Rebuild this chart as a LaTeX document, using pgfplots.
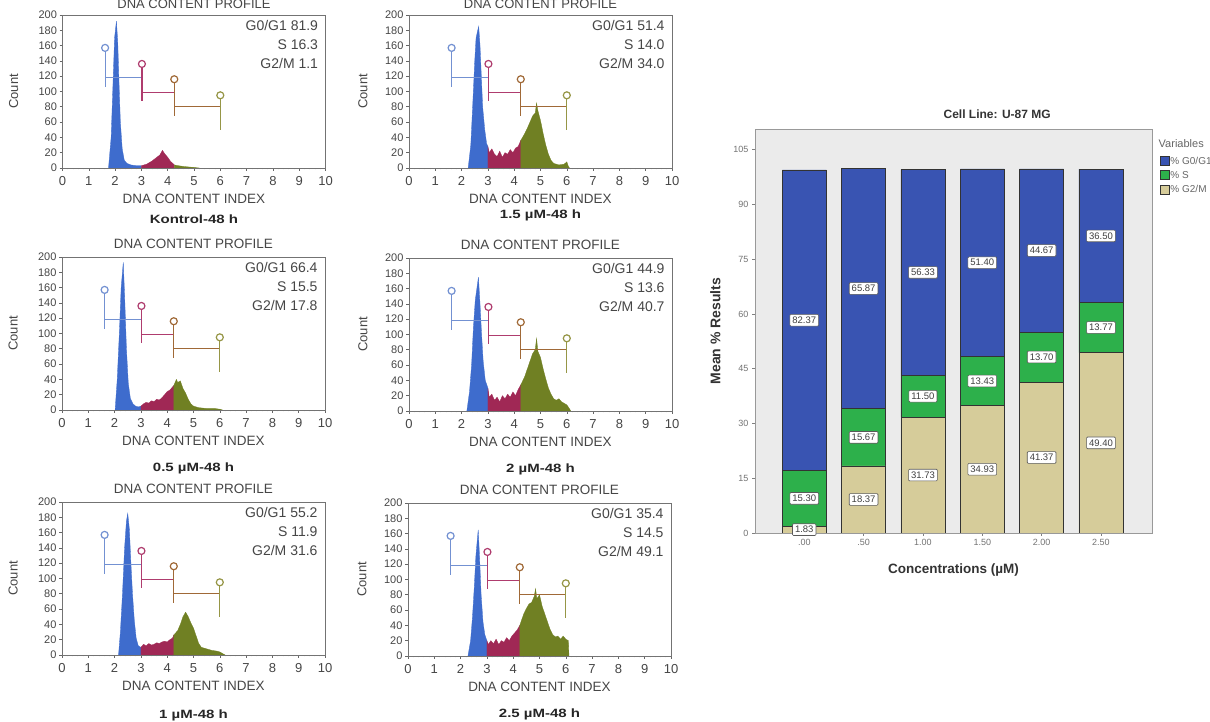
\documentclass[border=0pt]{standalone}
\usepackage{pgfplots}
\pgfplotsset{compat=1.18}
\usepackage{fontspec}
\setmainfont{Liberation Sans}
\definecolor{hblue}{RGB}{62,108,205}
\definecolor{hmaroon}{RGB}{160,40,85}
\definecolor{holive}{RGB}{112,128,35}
\definecolor{gblue}{RGB}{115,145,210}
\definecolor{gmaroon}{RGB}{175,60,110}
\definecolor{gbrown}{RGB}{160,105,55}
\definecolor{golive}{RGB}{150,150,70}
\definecolor{bblue}{RGB}{57,84,178}
\definecolor{bgreen}{RGB}{45,176,75}
\definecolor{btan}{RGB}{214,204,154}
\definecolor{txt}{RGB}{70,70,70}
\pgfplotsset{
  histo/.style={
    anchor=south west, scale only axis, width=263pt, height=153pt,
    xmin=0, xmax=10, ymin=0, ymax=200,
    xtick={0,1,...,10}, ytick={0,20,...,200},
    minor x tick num=4, tick pos=left,
    clip mode=individual,
    tick align=outside, major tick length=3pt, minor tick length=1.5pt,
    axis line style={black!55, line width=0.8pt},
    tick style={black!60, line width=0.6pt},
    /pgf/number format/assume math mode=true,
    xticklabel style={font=\fontsize{13}{13}\selectfont, text=txt, yshift=-2pt},
    yticklabel style={font=\fontsize{11}{11}\selectfont, text=txt, xshift=1pt},
    title={DNA CONTENT PROFILE},
    title style={at={(0.5,1)}, anchor=base, yshift=2.5pt, font=\fontsize{13.5}{14}\selectfont, text=txt},
    xlabel={DNA CONTENT INDEX},
    xlabel style={at={(axis description cs:0.5,0)}, anchor=center, yshift=-31pt, font=\fontsize{13.5}{14}\selectfont, text=txt},
    ylabel={Count},
    ylabel style={anchor=center, font=\fontsize{13}{14}\selectfont, text=txt},
  },
  toprow/.style={title style={yshift=-2pt, font=\fontsize{13}{13}\selectfont}},
  hb/.style={fill=hblue, draw=hblue, line width=0.3pt},
  hm/.style={fill=hmaroon, draw=hmaroon, line width=0.3pt},
  ho/.style={fill=holive, draw=holive, line width=0.3pt},
  gl/.style={line width=1.2pt, mark=none},
  gc/.style={only marks, mark=o, mark size=3.5pt, mark options={line width=1.2pt}},
}
\newcommand{\gates}{%
  \addplot[gblue, gl] coordinates {(1.62,152)(1.62,106)};
  \addplot[gblue, gl] coordinates {(1.62,118)(3.02,118)};
  \addplot[gblue, gc] coordinates {(1.62,157)};
  \addplot[gmaroon, gl] coordinates {(3.02,131)(3.02,88)};
  \addplot[gmaroon, gl] coordinates {(3.02,99)(4.25,99)};
  \addplot[gmaroon, gc] coordinates {(3.02,136)};
  \addplot[gbrown, gl] coordinates {(4.25,111)(4.25,68)};
  \addplot[gbrown, gl] coordinates {(4.25,80)(6.0,80)};
  \addplot[gbrown, gc] coordinates {(4.25,116)};
  \addplot[golive, gl] coordinates {(6.0,90)(6.0,50)};
  \addplot[golive, gc] coordinates {(6.0,95)};
}
\newcommand{\stats}[3]{%
  \node[anchor=east, text=txt, font=\fontsize{14}{14}\selectfont, yshift=-11pt] at (rel axis cs:0.985,1) {G0/G1 #1};
  \node[anchor=east, text=txt, font=\fontsize{14}{14}\selectfont, yshift=-30pt] at (rel axis cs:0.985,1) {S #2};
  \node[anchor=east, text=txt, font=\fontsize{14}{14}\selectfont, yshift=-49pt] at (rel axis cs:0.985,1) {G2/M #3};
}
\newcommand{\subcap}[2]{%
  \node[anchor=center, text=black!85, font=\bfseries\fontsize{12}{12}\selectfont, xscale=1.25, yshift=-#1] at (rel axis cs:0.5,0) {#2};
}
\begin{document}
\begin{tikzpicture}
\useasboundingbox (0,0) rectangle (1210pt,722pt);
\fill[white] (0,0) rectangle (1210pt,722pt);

% ---------- Row 1, col 1: Kontrol
\begin{axis}[histo, toprow, at={(62.5pt,554pt)}, ylabel style={at={(axis description cs:-0.186,0.5)}}]
\addplot[hb] coordinates {(1.75,0)(1.85,40)(1.92,110)(1.98,170)(2.05,192)(2.1,165)(2.15,110)(2.2,60)(2.27,25)(2.35,10)(2.45,6)(2.6,4)(2.8,3)(3.0,3)} \closedcycle;
\addplot[hm] coordinates {(3.0,3)(3.2,5)(3.4,9)(3.55,13)(3.7,17)(3.8,23)(3.9,18)(4.0,14)(4.1,9)(4.25,4)} \closedcycle;
\addplot[ho] coordinates {(4.25,4)(4.4,3)(4.6,2)(4.9,1)(5.2,0)} \closedcycle;
\gates
\stats{81.9}{16.3}{1.1}
\subcap{51pt}{Kontrol-48 h}
\end{axis}

% ---------- Row 1, col 2: 1.5 uM
\begin{axis}[histo, toprow, at={(409pt,554pt)}, ylabel style={at={(axis description cs:-0.175,0.5)}}]
\addplot[hb] coordinates {(2.25,0)(2.35,30)(2.42,80)(2.5,140)(2.55,170)(2.6,178)(2.65,185)(2.7,160)(2.75,120)(2.8,80)(2.88,50)(2.95,32)(3.0,28)} \closedcycle;
\addplot[hm] coordinates {(3.0,28)(3.05,20)(3.15,25)(3.25,18)(3.35,15)(3.45,22)(3.55,14)(3.65,20)(3.75,18)(3.85,24)(3.95,20)(4.05,26)(4.15,28)(4.25,36)} \closedcycle;
\addplot[ho] coordinates {(4.25,36)(4.4,45)(4.5,52)(4.6,60)(4.7,68)(4.8,72)(4.85,85)(4.9,75)(5.0,62)(5.1,45)(5.2,30)(5.3,18)(5.4,10)(5.5,6)(5.7,4)(5.9,5)(6.0,8)(6.05,3)(6.1,0)} \closedcycle;
\gates
\stats{51.4}{14.0}{34.0}
\subcap{47pt}{1.5 µM-48 h}
\end{axis}

% ---------- Row 2, col 1: 0.5 uM
\begin{axis}[histo, at={(62pt,312pt)}, ylabel style={at={(axis description cs:-0.186,0.5)}}]
\addplot[hb] coordinates {(2.02,0)(2.1,40)(2.18,100)(2.25,160)(2.33,193)(2.38,150)(2.45,80)(2.52,35)(2.6,15)(2.7,8)(2.8,5)(2.9,4)(3.0,5)} \closedcycle;
\addplot[hm] coordinates {(3.0,5)(3.1,8)(3.2,10)(3.3,9)(3.4,12)(3.5,11)(3.6,14)(3.7,13)(3.8,16)(3.9,20)(4.0,24)(4.1,26)(4.2,30)(4.25,32)} \closedcycle;
\addplot[ho] coordinates {(4.25,32)(4.35,40)(4.4,36)(4.5,38)(4.6,28)(4.7,22)(4.8,14)(4.9,8)(5.0,5)(5.2,3)(5.5,2)(5.8,2)(6.0,1)(6.1,0)} \closedcycle;
\gates
\stats{66.4}{15.5}{17.8}
\subcap{58pt}{0.5 µM-48 h}
\end{axis}

% ---------- Row 2, col 2: 2 uM
\begin{axis}[histo, at={(409pt,311pt)}, ylabel style={at={(axis description cs:-0.175,0.5)}}]
\addplot[hb] coordinates {(2.2,0)(2.3,25)(2.38,60)(2.45,110)(2.52,145)(2.58,160)(2.64,175)(2.7,140)(2.76,100)(2.82,65)(2.9,40)(3.0,30)} \closedcycle;
\addplot[hm] coordinates {(3.0,30)(3.05,18)(3.15,22)(3.25,14)(3.35,18)(3.45,12)(3.55,20)(3.65,16)(3.75,22)(3.85,18)(3.95,25)(4.05,20)(4.15,28)(4.25,34)} \closedcycle;
\addplot[ho] coordinates {(4.25,34)(4.4,45)(4.5,55)(4.6,65)(4.7,75)(4.8,80)(4.85,95)(4.9,78)(5.0,70)(5.1,55)(5.2,42)(5.3,30)(5.4,22)(5.5,16)(5.6,14)(5.7,16)(5.8,12)(5.9,10)(6.0,8)(6.1,3)(6.15,0)} \closedcycle;
\gates
\stats{44.9}{13.6}{40.7}
\subcap{58pt}{2 µM-48 h}
\end{axis}

% ---------- Row 3, col 1: 1 uM
\begin{axis}[histo, at={(62pt,67pt)}, ylabel style={at={(axis description cs:-0.186,0.5)}}]
\addplot[hb] coordinates {(2.15,0)(2.22,30)(2.3,80)(2.38,140)(2.45,175)(2.5,185)(2.56,165)(2.62,120)(2.68,80)(2.75,45)(2.82,22)(2.9,12)(3.0,10)} \closedcycle;
\addplot[hm] coordinates {(3.0,10)(3.1,14)(3.2,12)(3.3,15)(3.4,13)(3.5,14)(3.6,16)(3.7,15)(3.8,17)(3.9,18)(4.0,17)(4.1,20)(4.2,22)(4.25,26)} \closedcycle;
\addplot[ho] coordinates {(4.25,26)(4.4,32)(4.5,40)(4.6,50)(4.7,56)(4.8,50)(4.9,42)(5.0,35)(5.1,25)(5.2,15)(5.3,10)(5.5,8)(5.7,6)(5.9,5)(6.0,4)(6.1,2)(6.2,0)} \closedcycle;
\gates
\stats{55.2}{11.9}{31.6}
\subcap{60pt}{1 µM-48 h}
\end{axis}

% ---------- Row 3, col 2: 2.5 uM
\begin{axis}[histo, at={(408pt,66pt)}, ylabel style={at={(axis description cs:-0.175,0.5)}}]
\addplot[hb] coordinates {(2.28,0)(2.38,20)(2.45,50)(2.52,90)(2.58,130)(2.63,150)(2.67,165)(2.72,130)(2.78,80)(2.85,45)(2.92,28)(3.0,20)} \closedcycle;
\addplot[hm] coordinates {(3.0,20)(3.05,15)(3.15,20)(3.25,16)(3.35,22)(3.45,15)(3.55,20)(3.65,18)(3.75,24)(3.85,20)(3.95,26)(4.05,30)(4.15,34)(4.25,40)} \closedcycle;
\addplot[ho] coordinates {(4.25,40)(4.4,55)(4.5,62)(4.6,68)(4.7,70)(4.8,78)(4.85,88)(4.9,75)(5.0,80)(5.1,65)(5.2,55)(5.3,45)(5.4,35)(5.5,28)(5.6,25)(5.7,26)(5.8,22)(5.9,26)(6.0,22)(6.1,20)(6.12,0)} \closedcycle;
\gates
\stats{35.4}{14.5}{49.1}
\subcap{58pt}{2.5 µM-48 h}
\end{axis}

% ---------- Stacked bar chart
\begin{axis}[
  at={(755pt,189pt)}, anchor=south west, scale only axis, width=397pt, height=404pt,
  ybar stacked, bar width=44pt, clip mode=individual,
  xmin=-0.83, xmax=5.86, ymin=0, ymax=110.7,
  xtick={0,1,2,3,4,5}, xticklabels={.00,.50,1.00,1.50,2.00,2.50},
  ytick={0,15,30,45,60,75,90,105}, tick pos=left,
  axis background/.style={fill=black!8},
  axis line style={black!40, line width=0.7pt},
  tick align=outside, major tick length=3pt, tick style={black!50, line width=0.6pt},
  /pgf/number format/assume math mode=true,
  xticklabel style={font=\fontsize{9}{9}\selectfont, text=black!55},
  yticklabel style={font=\fontsize{9}{9}\selectfont, text=black!55},
  title={Cell Line: U-87 MG},
  title style={at={(0.61,1)}, anchor=base, yshift=4.5pt, font=\bfseries\fontsize{12}{12}\selectfont, text=black!80},
  xlabel={Concentrations (µM)},
  xlabel style={at={(axis description cs:0.5,0)}, anchor=center, yshift=-37pt, font=\bfseries\fontsize{13.5}{14}\selectfont, text=black!80},
  ylabel={Mean \% Results},
  ylabel style={at={(axis description cs:-0.1,0.5)}, anchor=center, font=\bfseries\fontsize{14}{14}\selectfont, text=black!80},
  legend style={at={(1.012,0.938)}, anchor=north west, draw=none, fill=none, font=\fontsize{10}{10}\selectfont, text=black!60, nodes={inner sep=1pt}, row sep=3.5pt},
  legend cell align=left, reverse legend,
  legend image code/.code={\draw[#1, line width=0.5pt] (0pt,-4pt) rectangle (9pt,5pt);},
]
\addplot[fill=btan, draw=black!80, line width=0.6pt] coordinates {(0,1.83)(1,18.37)(2,31.73)(3,34.93)(4,41.37)(5,49.40)};
\addlegendentry{\% G2/M}
\addplot[fill=bgreen, draw=black!80, line width=0.6pt] coordinates {(0,15.30)(1,15.67)(2,11.50)(3,13.43)(4,13.70)(5,13.77)};
\addlegendentry{\% S}
\addplot[fill=bblue, draw=black!80, line width=0.6pt] coordinates {(0,82.37)(1,65.87)(2,56.33)(3,51.40)(4,44.67)(5,36.50)};
\addlegendentry{\% G0/G1}
\node[anchor=west, text=black!60, font=\fontsize{11}{11}\selectfont] at (rel axis cs:1.008,0.965) {Variables};
\end{axis}

% ---------- value labels (segment centres)
\begin{axis}[
  at={(755pt,189pt)}, anchor=south west, scale only axis, width=397pt, height=404pt,
  xmin=-0.83, xmax=5.86, ymin=0, ymax=110.7, hide axis, clip=false,
]
\addplot[draw=none, mark=none, nodes near coords, point meta=explicit symbolic,
  nodes near coords style={anchor=center, font=\fontsize{9.5}{9.5}\selectfont, text=black!75, fill=white, draw=black!65, line width=0.6pt, inner sep=2.5pt, rounded corners=1pt}]
coordinates {
 (0,0.915)[1.83] (0,9.48)[15.30] (0,58.30)[82.37]
 (1,9.19)[18.37] (1,26.20)[15.67] (1,66.98)[65.87]
 (2,15.87)[31.73] (2,37.48)[11.50] (2,71.40)[56.33]
 (3,17.47)[34.93] (3,41.65)[13.43] (3,74.06)[51.40]
 (4,20.69)[41.37] (4,48.22)[13.70] (4,77.40)[44.67]
 (5,24.70)[49.40] (5,56.29)[13.77] (5,81.40)[36.50]
};
\end{axis}
\end{tikzpicture}
\end{document}
